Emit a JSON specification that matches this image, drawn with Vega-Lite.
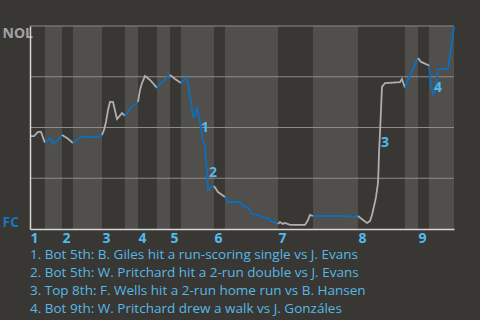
{
  "$schema": "https://vega.github.io/schema/vega-lite/v6.json",
  "width": 424,
  "height": 203,
  "autosize": "none",
  "padding": {"left": 30, "top": 26, "right": 26, "bottom": 91},
  "background": "#393733",
  "config": {"view": {"stroke": null}, "font": "Open Sans"},
  "datasets": {
    "bands": [
      {"start": 15, "end": 32}, {"start": 43, "end": 72}, {"start": 95, "end": 108},
      {"start": 127, "end": 140}, {"start": 151, "end": 184}, {"start": 195, "end": 248},
      {"start": 283, "end": 328}, {"start": 375, "end": 388}, {"start": 399, "end": 424}
    ],
    "grid": [{"wp": 0.25}, {"wp": 0.5}, {"wp": 0.75}, {"wp": 1}],
    "notes": [
      {"t": 175, "wp": 0.4975, "n": "1"},
      {"t": 183, "wp": 0.276, "n": "2"},
      {"t": 355, "wp": 0.424, "n": "3"},
      {"t": 408, "wp": 0.695, "n": "4"}
    ],
    "wp": [
      {"h": "T1", "side": "top", "t": 0, "wp": 0.458},
      {"h": "T1", "side": "top", "t": 4, "wp": 0.458},
      {"h": "T1", "side": "top", "t": 8, "wp": 0.478},
      {"h": "T1", "side": "top", "t": 11, "wp": 0.478},
      {"h": "T1", "side": "top", "t": 15, "wp": 0.424},
      {"h": "B1", "side": "bot", "t": 15, "wp": 0.424},
      {"h": "B1", "side": "bot", "t": 18, "wp": 0.438},
      {"h": "B1", "side": "bot", "t": 20, "wp": 0.448},
      {"h": "B1", "side": "bot", "t": 23, "wp": 0.419},
      {"h": "B1", "side": "bot", "t": 27, "wp": 0.433},
      {"h": "B1", "side": "bot", "t": 32, "wp": 0.463},
      {"h": "T2", "side": "top", "t": 32, "wp": 0.463},
      {"h": "T2", "side": "top", "t": 37, "wp": 0.448},
      {"h": "T2", "side": "top", "t": 43, "wp": 0.424},
      {"h": "B2", "side": "bot", "t": 43, "wp": 0.424},
      {"h": "B2", "side": "bot", "t": 48, "wp": 0.443},
      {"h": "B2", "side": "bot", "t": 53, "wp": 0.458},
      {"h": "B2", "side": "bot", "t": 56, "wp": 0.453},
      {"h": "B2", "side": "bot", "t": 69, "wp": 0.453},
      {"h": "B2", "side": "bot", "t": 72, "wp": 0.463},
      {"h": "T3", "side": "top", "t": 72, "wp": 0.463},
      {"h": "T3", "side": "top", "t": 74, "wp": 0.488},
      {"h": "T3", "side": "top", "t": 76, "wp": 0.527},
      {"h": "T3", "side": "top", "t": 78, "wp": 0.586},
      {"h": "T3", "side": "top", "t": 80, "wp": 0.626},
      {"h": "T3", "side": "top", "t": 83, "wp": 0.626},
      {"h": "T3", "side": "top", "t": 87, "wp": 0.542},
      {"h": "T3", "side": "top", "t": 92, "wp": 0.571},
      {"h": "T3", "side": "top", "t": 95, "wp": 0.557},
      {"h": "B3", "side": "bot", "t": 95, "wp": 0.557},
      {"h": "B3", "side": "bot", "t": 99, "wp": 0.586},
      {"h": "B3", "side": "bot", "t": 103, "wp": 0.606},
      {"h": "B3", "side": "bot", "t": 107, "wp": 0.621},
      {"h": "B3", "side": "bot", "t": 108, "wp": 0.626},
      {"h": "T4", "side": "top", "t": 108, "wp": 0.626},
      {"h": "T4", "side": "top", "t": 110, "wp": 0.685},
      {"h": "T4", "side": "top", "t": 112, "wp": 0.719},
      {"h": "T4", "side": "top", "t": 115, "wp": 0.754},
      {"h": "T4", "side": "top", "t": 120, "wp": 0.734},
      {"h": "T4", "side": "top", "t": 127, "wp": 0.695},
      {"h": "B4", "side": "bot", "t": 127, "wp": 0.695},
      {"h": "B4", "side": "bot", "t": 132, "wp": 0.724},
      {"h": "B4", "side": "bot", "t": 136, "wp": 0.739},
      {"h": "B4", "side": "bot", "t": 139, "wp": 0.759},
      {"h": "B4", "side": "bot", "t": 140, "wp": 0.759},
      {"h": "T5", "side": "top", "t": 140, "wp": 0.759},
      {"h": "T5", "side": "top", "t": 145, "wp": 0.739},
      {"h": "T5", "side": "top", "t": 151, "wp": 0.719},
      {"h": "B5", "side": "bot", "t": 151, "wp": 0.719},
      {"h": "B5", "side": "bot", "t": 156, "wp": 0.744},
      {"h": "B5", "side": "bot", "t": 158, "wp": 0.714},
      {"h": "B5", "side": "bot", "t": 161, "wp": 0.626},
      {"h": "B5", "side": "bot", "t": 163, "wp": 0.552},
      {"h": "B5", "side": "bot", "t": 165, "wp": 0.557},
      {"h": "B5", "side": "bot", "t": 167, "wp": 0.601},
      {"h": "B5", "side": "bot", "t": 169, "wp": 0.552},
      {"h": "B5", "side": "bot", "t": 171, "wp": 0.502},
      {"h": "B5", "side": "bot", "t": 172, "wp": 0.448},
      {"h": "B5", "side": "bot", "t": 175, "wp": 0.409},
      {"h": "B5", "side": "bot", "t": 176, "wp": 0.330},
      {"h": "B5", "side": "bot", "t": 177, "wp": 0.291},
      {"h": "B5", "side": "bot", "t": 178, "wp": 0.192},
      {"h": "B5", "side": "bot", "t": 181, "wp": 0.207},
      {"h": "B5", "side": "bot", "t": 184, "wp": 0.212},
      {"h": "T6", "side": "top", "t": 184, "wp": 0.212},
      {"h": "T6", "side": "top", "t": 188, "wp": 0.182},
      {"h": "T6", "side": "top", "t": 195, "wp": 0.158},
      {"h": "B6", "side": "bot", "t": 195, "wp": 0.158},
      {"h": "B6", "side": "bot", "t": 198, "wp": 0.133},
      {"h": "B6", "side": "bot", "t": 210, "wp": 0.133},
      {"h": "B6", "side": "bot", "t": 212, "wp": 0.118},
      {"h": "B6", "side": "bot", "t": 215, "wp": 0.108},
      {"h": "B6", "side": "bot", "t": 218, "wp": 0.108},
      {"h": "B6", "side": "bot", "t": 222, "wp": 0.074},
      {"h": "B6", "side": "bot", "t": 228, "wp": 0.069},
      {"h": "B6", "side": "bot", "t": 232, "wp": 0.059},
      {"h": "B6", "side": "bot", "t": 238, "wp": 0.054},
      {"h": "B6", "side": "bot", "t": 240, "wp": 0.039},
      {"h": "B6", "side": "bot", "t": 245, "wp": 0.030},
      {"h": "B6", "side": "bot", "t": 248, "wp": 0.025},
      {"h": "T7", "side": "top", "t": 248, "wp": 0.025},
      {"h": "T7", "side": "top", "t": 250, "wp": 0.034},
      {"h": "T7", "side": "top", "t": 253, "wp": 0.025},
      {"h": "T7", "side": "top", "t": 255, "wp": 0.030},
      {"h": "T7", "side": "top", "t": 260, "wp": 0.020},
      {"h": "T7", "side": "top", "t": 275, "wp": 0.020},
      {"h": "T7", "side": "top", "t": 278, "wp": 0.044},
      {"h": "T7", "side": "top", "t": 280, "wp": 0.069},
      {"h": "T7", "side": "top", "t": 283, "wp": 0.064},
      {"h": "B7", "side": "bot", "t": 283, "wp": 0.064},
      {"h": "B7", "side": "bot", "t": 288, "wp": 0.064},
      {"h": "B7", "side": "bot", "t": 300, "wp": 0.064},
      {"h": "B7", "side": "bot", "t": 315, "wp": 0.064},
      {"h": "B7", "side": "bot", "t": 325, "wp": 0.059},
      {"h": "B7", "side": "bot", "t": 327, "wp": 0.064},
      {"h": "B7", "side": "bot", "t": 328, "wp": 0.064},
      {"h": "T8", "side": "top", "t": 328, "wp": 0.064},
      {"h": "T8", "side": "top", "t": 333, "wp": 0.044},
      {"h": "T8", "side": "top", "t": 337, "wp": 0.030},
      {"h": "T8", "side": "top", "t": 340, "wp": 0.039},
      {"h": "T8", "side": "top", "t": 342, "wp": 0.069},
      {"h": "T8", "side": "top", "t": 345, "wp": 0.133},
      {"h": "T8", "side": "top", "t": 346, "wp": 0.158},
      {"h": "T8", "side": "top", "t": 348, "wp": 0.227},
      {"h": "T8", "side": "top", "t": 348.5, "wp": 0.291},
      {"h": "T8", "side": "top", "t": 349, "wp": 0.374},
      {"h": "T8", "side": "top", "t": 350, "wp": 0.473},
      {"h": "T8", "side": "top", "t": 351, "wp": 0.586},
      {"h": "T8", "side": "top", "t": 352, "wp": 0.700},
      {"h": "T8", "side": "top", "t": 355, "wp": 0.719},
      {"h": "T8", "side": "top", "t": 370, "wp": 0.724},
      {"h": "T8", "side": "top", "t": 372, "wp": 0.739},
      {"h": "T8", "side": "top", "t": 375, "wp": 0.695},
      {"h": "B8", "side": "bot", "t": 375, "wp": 0.695},
      {"h": "B8", "side": "bot", "t": 380, "wp": 0.759},
      {"h": "B8", "side": "bot", "t": 388, "wp": 0.842},
      {"h": "T9", "side": "top", "t": 388, "wp": 0.842},
      {"h": "T9", "side": "top", "t": 391, "wp": 0.823},
      {"h": "T9", "side": "top", "t": 398, "wp": 0.808},
      {"h": "T9", "side": "top", "t": 399, "wp": 0.803},
      {"h": "B9", "side": "bot", "t": 399, "wp": 0.803},
      {"h": "B9", "side": "bot", "t": 401, "wp": 0.709},
      {"h": "B9", "side": "bot", "t": 403, "wp": 0.665},
      {"h": "B9", "side": "bot", "t": 405, "wp": 0.680},
      {"h": "B9", "side": "bot", "t": 408, "wp": 0.788},
      {"h": "B9", "side": "bot", "t": 418, "wp": 0.788},
      {"h": "B9", "side": "bot", "t": 424, "wp": 0.995}
    ]
  },
  "title": {
    "text": [
      "1. Bot 5th: B. Giles hit a run-scoring single vs J. Evans",
      "2. Bot 5th: W. Pritchard hit a 2-run double vs J. Evans",
      "3. Top 8th: F. Wells hit a 2-run home run vs B. Hansen",
      "4. Bot 9th: W. Pritchard drew a walk vs J. Gonzáles"
    ],
    "orient": "bottom",
    "anchor": "start",
    "frame": "group",
    "font": "Open Sans",
    "fontSize": 13.5,
    "fontWeight": "normal",
    "color": "#55b9e7",
    "lineHeight": 18,
    "offset": 3
  },
  "layer": [
    {
      "data": {"name": "bands"},
      "mark": {"type": "rect", "color": "#504f4c"},
      "encoding": {
        "x": {
          "field": "start", "type": "quantitative",
          "scale": {"domain": [0, 424], "nice": false, "zero": false},
          "axis": {
            "values": [0, 32, 72, 108, 140, 184, 248, 328, 388],
            "labelExpr": "'' + (indexof([0, 32, 72, 108, 140, 184, 248, 328, 388], datum.value) + 1)",
            "labelAlign": "left", "labelFlush": false, "labelOverlap": false,
            "ticks": false, "grid": false,
            "domainColor": "#d6d6d6", "domainWidth": 1.5,
            "labelColor": "#4fbcec", "labelFontWeight": "bold", "labelFontSize": 14,
            "labelFont": "Open Sans", "labelPadding": 2, "title": null, "zindex": 1
          }
        },
        "x2": {"field": "end"}
      }
    },
    {
      "data": {"name": "grid"},
      "mark": {"type": "rule", "color": "#8c8c8a", "strokeWidth": 1},
      "encoding": {
        "y": {
          "field": "wp", "type": "quantitative",
          "scale": {"domain": [0, 1], "nice": false},
          "axis": {
            "values": [0, 1],
            "labelExpr": "datum.value > 0.5 ? 'NOL' : 'FC'",
            "labelAlign": "left", "labelPadding": 28, "labelOverlap": false,
            "ticks": false, "grid": false,
            "domainColor": "#d6d6d6", "domainWidth": 1.5,
            "labelFont": "Open Sans", "labelFontWeight": "bold", "labelFontSize": 14,
            "labelColor": {"condition": {"test": "datum.value > 0.5", "value": "#a3a3a3"}, "value": "#1a73bd"},
            "labelBaseline": {"condition": {"test": "datum.value > 0.5", "value": "top"}, "value": "bottom"},
            "title": null, "zindex": 1
          }
        }
      }
    },
    {
      "data": {"name": "wp"},
      "mark": {"type": "line", "strokeWidth": 1.8},
      "encoding": {
        "x": {"field": "t", "type": "quantitative", "title": null},
        "y": {"field": "wp", "type": "quantitative", "title": null},
        "color": {"field": "side", "type": "nominal", "scale": {"domain": ["top", "bot"], "range": ["#aeaeae", "#0b6fbe"]}, "legend": null},
        "detail": {"field": "h"}
      }
    },
    {
      "data": {"name": "notes"},
      "mark": {"type": "text", "font": "Open Sans", "fontWeight": "bold", "fontSize": 14, "color": "#4fbcec", "baseline": "middle", "align": "center"},
      "encoding": {
        "x": {"field": "t", "type": "quantitative", "title": null},
        "y": {"field": "wp", "type": "quantitative", "title": null},
        "text": {"field": "n"}
      }
    }
  ]
}
